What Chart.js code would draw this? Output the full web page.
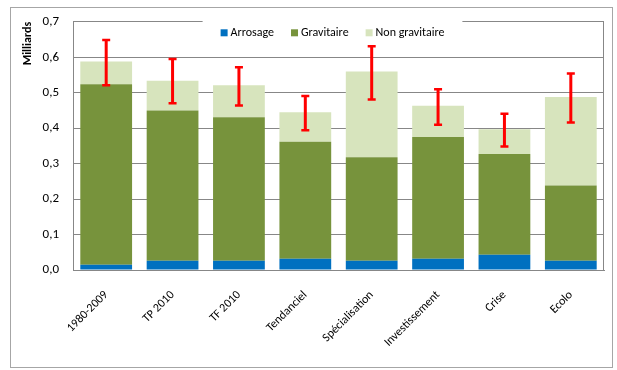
<!DOCTYPE html>
<html>
<head>
<meta charset="utf-8">
<script src="https://cdn.jsdelivr.net/npm/chart.js@4.4.0/dist/chart.umd.min.js"></script>
<style>
    body { margin: 0; background: #fff; }
    #wrap { position: relative; width: 617px; height: 370px; }
    #cadre { position: absolute; left: 10px; top: 7px; width: 601px; height: 359px; border: 1px solid #a6a6a6; pointer-events: none; }
</style>
</head>
<body>
<div id="wrap">
    <canvas id="grafico-eau" width="617" height="370"></canvas>
    <div id="cadre"></div>
</div>
<script>
// Scénarios
let labelsScenarios = ["1980-2009", "TP 2010", "TF 2010", "Tendanciel", "Spécialisation", "Investissement", "Crise", "Ecolo"];

// Valeurs (milliards)
let valeursArrosage = [0.015, 0.026, 0.026, 0.032, 0.026, 0.032, 0.043, 0.026];
let valeursGravitaire = [0.509, 0.424, 0.405, 0.330, 0.292, 0.343, 0.284, 0.212];
let valeursNonGravitaire = [0.064, 0.084, 0.090, 0.083, 0.242, 0.088, 0.070, 0.250];

// Barres d'erreur (min / max)
let erreurMin = [0.521, 0.470, 0.464, 0.394, 0.481, 0.410, 0.348, 0.416];
let erreurMax = [0.649, 0.595, 0.572, 0.491, 0.631, 0.510, 0.441, 0.554];

let ticksY = [0, 0.1, 0.2, 0.3, 0.4, 0.5, 0.6, 0.7];

const police = "Carlito, Lato, 'Liberation Sans', sans-serif";

// Plugin : légende dans la zone de tracé (fond blanc + carrés + textes)
const legendeInterne = {
    id: "legendeInterne",
    beforeDatasetsDraw(chart) {
        const ctx = chart.ctx;
        const area = chart.chartArea;
        ctx.save();
        ctx.font = "12px " + police;
        const items = chart.data.datasets.map(ds => ({ texte: ds.label, couleur: ds.backgroundColor, w: 10 + ctx.measureText(ds.label).width }));
        const ecart = 17;
        const total = items.reduce((s, it) => s + it.w, 0) + ecart * (items.length - 1);
        let x = (area.left + area.right) / 2 - total / 2 - 6;
        const y = area.top + 11;
        // fond blanc qui coupe la ligne du haut
        ctx.fillStyle = "#fff";
        ctx.fillRect(x - 18, area.top - 2, total + 36, 24);
        ctx.textBaseline = "middle";
        items.forEach(it => {
            ctx.fillStyle = it.couleur;
            ctx.fillRect(x, y - 3.5, 7, 7);
            ctx.fillStyle = "#000";
            ctx.fillText(it.texte, x + 10, y + 0.5);
            x += it.w + ecart;
        });
        ctx.restore();
    },
    afterDraw(chart) {
        // bordure droite de la zone de tracé
        const ctx = chart.ctx;
        const area = chart.chartArea;
        ctx.save();
        ctx.strokeStyle = "#878787";
        ctx.lineWidth = 1;
        ctx.beginPath();
        ctx.moveTo(Math.round(area.right) - 0.5, area.top);
        ctx.lineTo(Math.round(area.right) - 0.5, area.bottom);
        ctx.stroke();
        ctx.restore();
    }
};

// Plugin : barres d'erreur rouges
const barresErreur = {
    id: "barresErreur",
    afterDatasetsDraw(chart) {
        const ctx = chart.ctx;
        const x = chart.scales.x;
        const y = chart.scales.y;
        ctx.save();
        ctx.strokeStyle = "#ff0000";
        ctx.lineCap = "butt";
        erreurMin.forEach((min, i) => {
            const px = x.getPixelForValue(i);
            const yMin = y.getPixelForValue(min);
            const yMax = y.getPixelForValue(erreurMax[i]);
            ctx.lineWidth = 3;
            ctx.beginPath();
            ctx.moveTo(px, yMin);
            ctx.lineTo(px, yMax);
            ctx.stroke();
            ctx.lineWidth = 2.5;
            ctx.beginPath();
            ctx.moveTo(px - 4, yMin);
            ctx.lineTo(px + 4, yMin);
            ctx.moveTo(px - 4, yMax);
            ctx.lineTo(px + 4, yMax);
            ctx.stroke();
        });
        ctx.restore();
    }
};

let dadosEau = {
    labels: labelsScenarios,
    datasets: [{
        label: "Arrosage",
        data: valeursArrosage,
        backgroundColor: "#0070c0"
    },
    {
        label: "Gravitaire",
        data: valeursGravitaire,
        backgroundColor: "#77933c"
    },
    {
        label: "Non gravitaire",
        data: valeursNonGravitaire,
        backgroundColor: "#d7e4bd"
    }]
};

const configEau = {
    type: "bar",
    data: dadosEau,
    plugins: [legendeInterne, barresErreur],
    options: {
        responsive: false,
        animation: false,
        categoryPercentage: 1,
        barPercentage: 0.78,
        layout: { padding: { top: 16, right: 13, bottom: 0, left: 12 } },
        plugins: {
            legend: { display: false },
            tooltip: { enabled: false }
        },
        scales: {
            x: {
                stacked: true,
                grid: { display: false },
                border: { color: "#878787" },
                ticks: {
                    color: "#000",
                    maxRotation: 45,
                    minRotation: 45,
                    padding: 10,
                    font: { family: police, size: 12 }
                },
                afterFit(scale) { scale.height = 100; }
            },
            y: {
                stacked: true,
                min: 0,
                max: 0.7,
                afterBuildTicks(scale) { scale.ticks = ticksY.map(v => ({ value: v })); },
                grid: { color: "#878787", drawTicks: false },
                border: { color: "#878787" },
                ticks: {
                    color: "#000",
                    padding: 14,
                    font: { family: police, size: 13 },
                    callback: v => v.toFixed(1).replace(".", ",")
                },
                title: {
                    display: true,
                    text: "Milliards",
                    align: "end",
                    color: "#000",
                    padding: { top: 9, bottom: 0 },
                    font: { family: police, size: 12, weight: "bold" }
                },
                afterFit(scale) { scale.width = 61; }
            }
        }
    }
};

let graficoEau = new Chart(
    document.getElementById("grafico-eau"),
    configEau
);
</script>
</body>
</html>
